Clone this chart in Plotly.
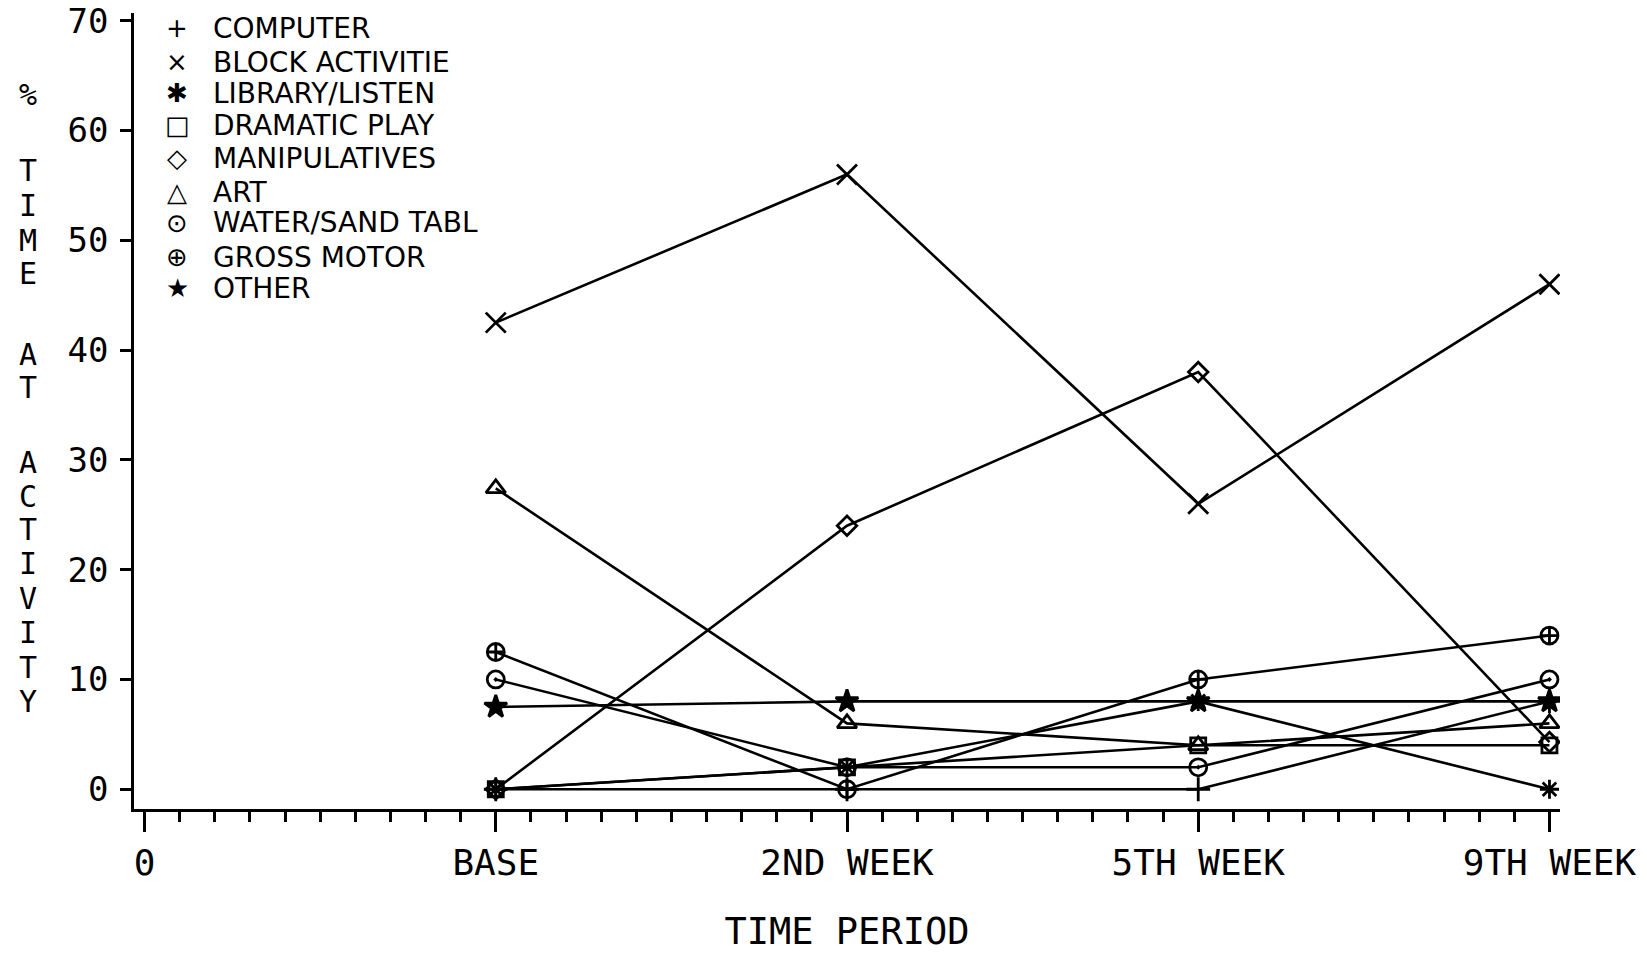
import plotly.graph_objects as go

# ---- data ----
periods = ["BASE", "2ND WEEK", "5TH WEEK", "9TH WEEK"]
x_tick_labels = ["0", "BASE", "2ND WEEK", "5TH WEEK", "9TH WEEK"]
y_tick_values = [0, 10, 20, 30, 40, 50, 60, 70]

computer = [0, 0, 0, 8]
block_activitie = [42.5, 56, 26, 46]
library_listen = [0, 2, 8, 0]
dramatic_play = [0, 2, 4, 4]
manipulatives = [0, 24, 38, 4.3]
art = [27.4, 6, 4, 6]
water_sand = [10, 2, 2, 10]
gross_motor = [12.5, 0, 10, 14]
other = [7.5, 8, 8, 8]

series_names = ["COMPUTER", "BLOCK ACTIVITIE", "LIBRARY/LISTEN", "DRAMATIC PLAY",
                "MANIPULATIVES", "ART", "WATER/SAND TABL", "GROSS MOTOR", "OTHER"]
series_values = [computer, block_activitie, library_listen, dramatic_play,
                 manipulatives, art, water_sand, gross_motor, other]

# ---- styles ----
symbols = ["cross-thin-open", "x-thin-open", "asterisk-open", "square-open",
           "diamond-open", "triangle-up-open", "circle-open-dot",
           "circle-cross-open", "star"]
sizes = [17, 20, 16, 15, 15, 17, 17, 17, 17]
legend_glyphs = ["+", "\u00d7", "\u2731", "\u25a1", "\u25c7", "\u25b3", "\u2299", "\u2295", "\u2605"]

x_pos = list(range(1, len(periods) + 1))

fig = go.Figure()
for name, vals, sym, sz in zip(series_names, series_values, symbols, sizes):
    fig.add_trace(go.Scatter(
        x=x_pos, y=vals, mode="lines+markers", name=name, showlegend=False,
        line=dict(color="black", width=2.6),
        marker=dict(symbol=sym, size=sz, color="black",
                    line=dict(color="black", width=2.8)),
    ))

W, H = 1647, 953
ml, mr, mt, mb = 134, 87, 13, 144
plot_h = H - mt - mb
plot_w = W - ml - mr

mono = "DejaVu Sans Mono"
sans = "DejaVu Sans"


def px_x(px):
    return (px - ml) / plot_w


def px_y(py):
    return (H - mb - py) / plot_h


annotations = []
# Legend as text rows
row_y = [28, 62, 93, 125, 158, 192, 223, 257, 288]
for glyph, name, py in zip(legend_glyphs, series_names, row_y):
    annotations.append(dict(text=glyph, xref="paper", yref="paper",
                            x=px_x(177), y=px_y(py),
                            xanchor="center", yanchor="middle", showarrow=False,
                            font=dict(family=sans, size=26, color="black")))
    annotations.append(dict(text=name, xref="paper", yref="paper",
                            x=px_x(211), y=px_y(py),
                            xanchor="left", yanchor="middle", showarrow=False,
                            font=dict(family=sans, size=28, color="black")))

# Vertical stacked y-axis title
title_letters = ["%", "T", "I", "M", "E", "A", "T", "A", "C", "T", "I", "V", "I", "T", "Y"]
title_py = [95, 170, 205, 240, 273, 354, 387, 462, 496, 529, 563, 598, 632, 667, 701]
for ch, py in zip(title_letters, title_py):
    annotations.append(dict(text=ch, xref="paper", yref="paper",
                            x=px_x(28), y=px_y(py),
                            xanchor="center", yanchor="middle", showarrow=False,
                            font=dict(family=mono, size=30, color="black")))

fig.update_layout(
    width=W, height=H,
    margin=dict(l=ml, r=mr, t=mt, b=mb, autoexpand=False),
    paper_bgcolor="white", plot_bgcolor="white",
    showlegend=False,
    annotations=annotations,
    xaxis=dict(
        range=[-0.03, 4.03], automargin=False,
        tickmode="array", tickvals=list(range(len(x_tick_labels))), ticktext=x_tick_labels,
        ticks="outside", ticklen=20, tickwidth=2.5, tickcolor="black",
        showline=True, linecolor="black", linewidth=2.5,
        showgrid=False, zeroline=False, ticklabeloverflow="allow",
        tickfont=dict(family=mono, size=36, color="black"),
        minor=dict(dtick=0.1, tick0=0, ticks="outside", ticklen=10,
                   tickwidth=2.5, tickcolor="black", showgrid=False),
        title=dict(text="TIME PERIOD", font=dict(family=mono, size=37, color="black"),
                   standoff=38),
    ),
    yaxis=dict(
        range=[-1.8, 70.7], automargin=False,
        tickmode="array", tickvals=y_tick_values,
        ticks="outside", ticklen=11, tickwidth=2.5, tickcolor="black",
        showline=True, linecolor="black", linewidth=2.5,
        showgrid=False, zeroline=False, ticklabeloverflow="allow",
        ticklabelstandoff=5,
        tickfont=dict(family=mono, size=34, color="black"),
    ),
)

fig.write_html("out.html",
               config={"displayModeBar": False},
               post_script="document.body.style.margin='0';"
                           "document.body.style.overflow='hidden';")
